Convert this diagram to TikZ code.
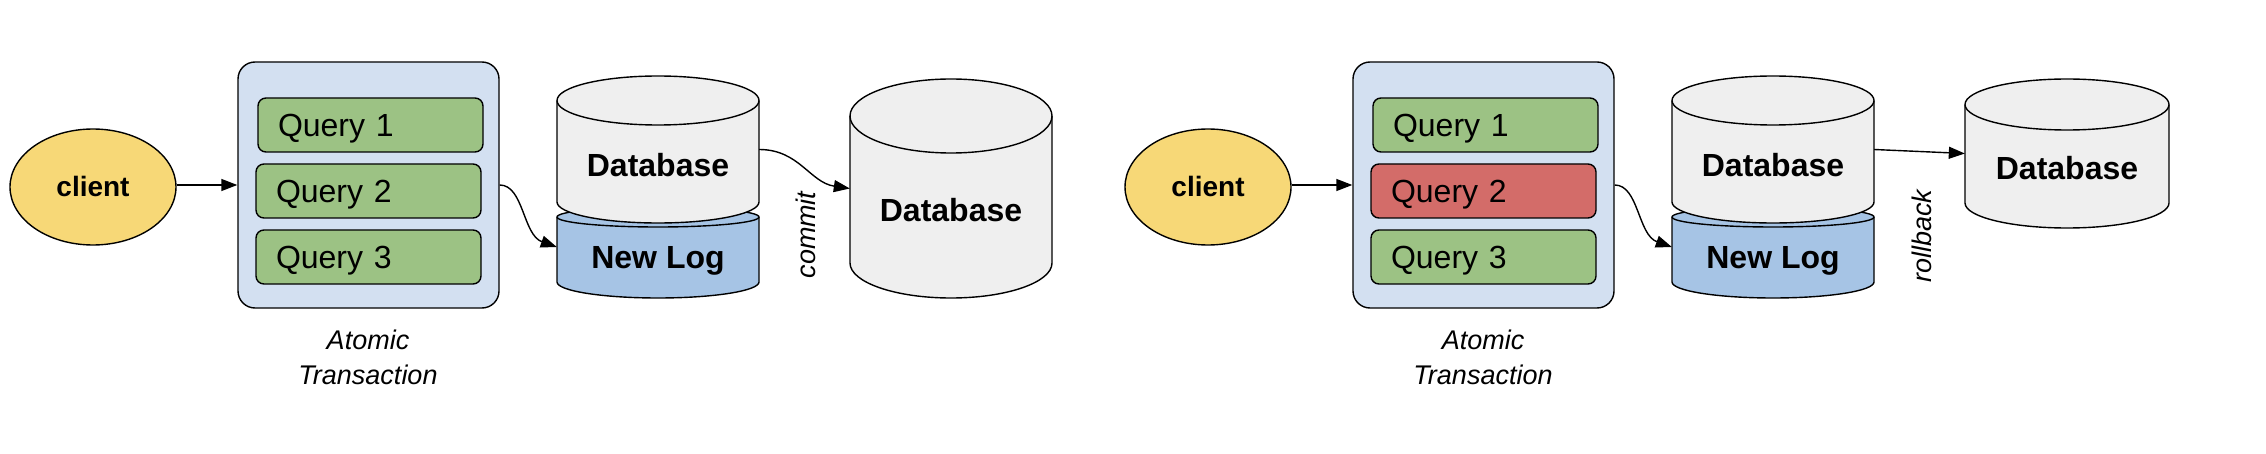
\documentclass[tikz,border=0pt]{standalone}
\usepackage{fontspec}
\setmainfont{Liberation Sans}
\usetikzlibrary{shapes.geometric,arrows.meta}
\definecolor{cyellow}{HTML}{F7D877}
\definecolor{cblue}{HTML}{D3E0F1}
\definecolor{qgreen}{HTML}{9CC284}
\definecolor{qred}{HTML}{D36C69}
\definecolor{logblue}{HTML}{A6C4E5}
\definecolor{dbgray}{HTML}{EFEFEF}
% #1 xL, #2 xR, #3 top-ellipse centre y, #4 top ry, #5 bottom-ellipse centre y, #6 bottom ry, #7 fill
\newcommand{\dbcylinder}[7]{%
  \pgfmathsetmacro{\cylrx}{(#2-#1)/2}%
  \filldraw[outl, fill=#7] (#1,-#3) -- (#1,-#5)
     arc[start angle=180, end angle=360, x radius=\cylrx, y radius=#6]
     -- (#2,-#3)
     arc[start angle=0, end angle=180, x radius=\cylrx, y radius=#4] -- cycle;
  \draw[outl] (#1,-#3) arc[start angle=180, end angle=360, x radius=\cylrx, y radius=#4];
}
\tikzset{
  outl/.style={draw=black, line width=1.4pt},
  area/.style={draw=none, inner sep=0pt},
  clientnode/.style={ellipse, outl, fill=cyellow, minimum width=166pt, minimum height=116pt,
    inner sep=0pt, font=\fontsize{28}{32}\selectfont\bfseries, text height=20pt, text depth=0pt},
  container/.style={rectangle, outl, fill=cblue, rounded corners=17pt,
    minimum width=261pt, minimum height=246pt},
  query/.style={rectangle, outl, rounded corners=8pt, minimum height=54pt,
    text width=185pt, inner xsep=20pt, inner ysep=0pt, align=left,
    font=\fontsize{32}{38}\selectfont, text height=23pt, text depth=0pt},
  dbtxt/.style={inner sep=0pt, font=\fontsize{32}{38}\selectfont\bfseries,
    text height=23pt, text depth=0pt},
  lbl/.style={inner sep=0pt, font=\fontsize{27}{35}\selectfont\itshape, align=center},
  rlbl/.style={lbl, rotate=90, text height=19.4pt, text depth=0pt},
  arr/.style={line width=1.4pt, -{Triangle[length=16pt,width=12pt]}}
}
\begin{document}
\begin{tikzpicture}[x=1pt,y=1pt]
\useasboundingbox (0,0) rectangle (2266,-454);

% ---------------- left: commit ----------------
\node[clientnode] (client1) at (93,-187) {client};
\node[container] (cont1) at (368.5,-185) {};
\node[query, fill=qgreen] (q1a) at (370.5,-125) {Query 1};
\node[query, fill=qgreen] (q2a) at (368.5,-191) {Query 2};
\node[query, fill=qgreen] (q3a) at (368.5,-257) {Query 3};
\node[lbl, anchor=north] (at1) at (368,-330) {Atomic\\Transaction};

\dbcylinder{557}{759}{217}{10}{282}{16}{logblue}
\dbcylinder{557}{759}{100.5}{24.5}{202}{21}{dbgray}
\dbcylinder{850}{1052}{116}{37}{263}{35}{dbgray}
\node[area, minimum width=202pt, minimum height=147pt] (dbA) at (658,-149.5) {};
\node[area, minimum width=202pt, minimum height=80pt] (logA) at (658,-247) {};
\node[area, minimum width=202pt, minimum height=219pt] (dbB) at (951,-188.5) {};
\node[dbtxt] (dbAt) at (658,-165) {Database};
\node[dbtxt] (logAt) at (658,-257.5) {New Log};
\node[dbtxt] (dbBt) at (951,-210) {Database};
\node[rlbl] (commit) at (806,-235) {commit};

\draw[arr] (client1.east |- cont1.west) -- (cont1.west);
\draw[arr] (cont1.east) .. controls +(24,0) and +(-34,12) .. (logA.west);
\draw[arr] (dbA.east) .. controls +(40,0) and +(-40,6) .. (dbB.west);

% ---------------- right: rollback ----------------
\node[clientnode] (client2) at (1208,-187) {client};
\node[container] (cont2) at (1483.5,-185) {};
\node[query, fill=qgreen] (q1b) at (1485.5,-125) {Query 1};
\node[query, fill=qred] (q2b) at (1483.5,-191) {Query 2};
\node[query, fill=qgreen] (q3b) at (1483.5,-257) {Query 3};
\node[lbl, anchor=north] (at2) at (1483,-330) {Atomic\\Transaction};

\dbcylinder{1672}{1874}{217}{10}{282}{16}{logblue}
\dbcylinder{1672}{1874}{100.5}{24.5}{202}{21}{dbgray}
\dbcylinder{1965}{2169}{104.5}{25.5}{203}{25}{dbgray}
\node[area, minimum width=202pt, minimum height=147pt] (dbC) at (1773,-149.5) {};
\node[area, minimum width=202pt, minimum height=80pt] (logC) at (1773,-247) {};
\node[area, minimum width=204pt, minimum height=149pt] (dbD) at (2067,-153.5) {};
\node[dbtxt] (dbCt) at (1773,-165) {Database};
\node[dbtxt] (logCt) at (1773,-257.5) {New Log};
\node[dbtxt] (dbDt) at (2067,-168) {Database};
\node[rlbl] (rollback) at (1922,-236) {rollback};

\draw[arr] (client2.east |- cont2.west) -- (cont2.west);
\draw[arr] (cont2.east) .. controls +(24,0) and +(-34,12) .. (logC.west);
\draw[arr] (dbC.east) -- (dbD.west);
\end{tikzpicture}
\end{document}
